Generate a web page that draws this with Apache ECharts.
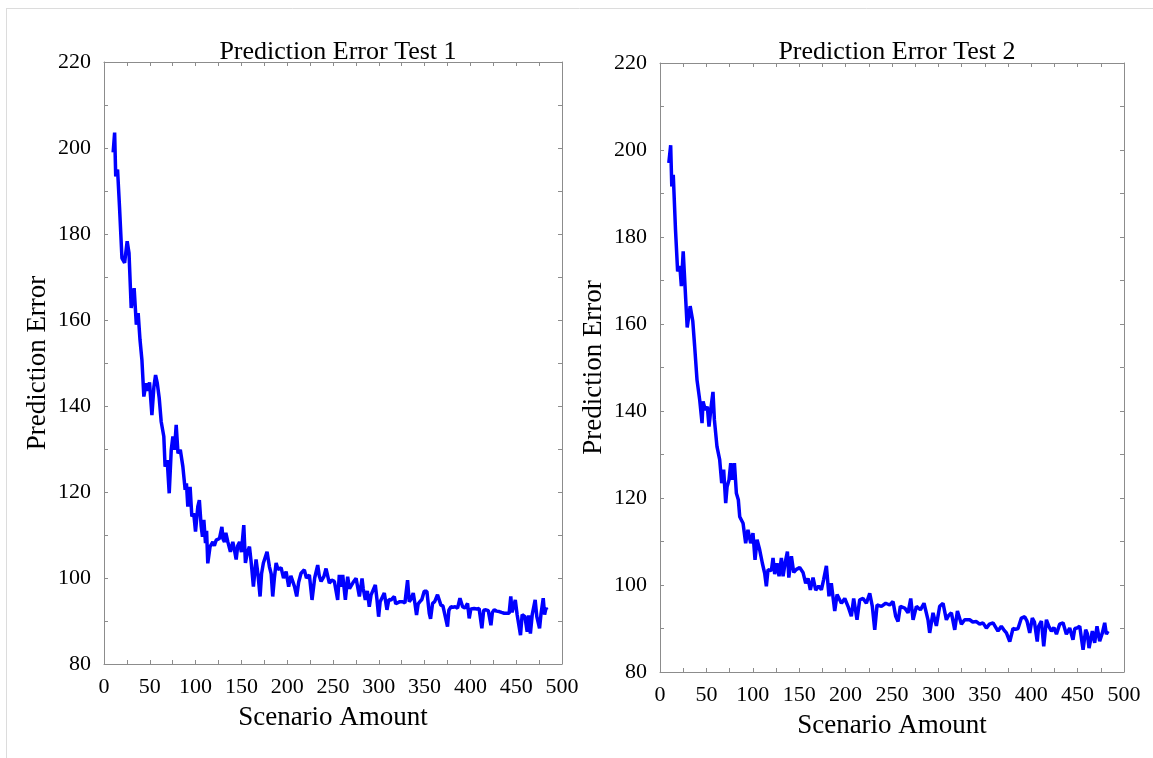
<!DOCTYPE html>
<html>
<head>
<meta charset="utf-8">
<script src="https://cdn.jsdelivr.net/npm/echarts@6/dist/echarts.min.js"></script>
<style>
html,body{margin:0;padding:0;background:#fff;}
#chart{width:1153px;height:758px;}
</style>
</head>
<body>
<div id="chart"></div>
<script>
// ---- data ----
var titles = ['Prediction Error Test 1', 'Prediction Error Test 2'];
var xAxisName = 'Scenario Amount';
var yAxisName = 'Prediction Error';
var xTicks = [0, 50, 100, 150, 200, 250, 300, 350, 400, 450, 500];
var yTicks = [80, 100, 120, 140, 160, 180, 200, 220];

var test1X = [10,11.6,12.8,14.8,17,19.6,22.5,25.3,27.3,29.7,32.9,35.3,37.3,39.3,41.4,43.5,45.9,47.5,49.7,52.3,54.5,56.3,58.1,60.3,62.4,65.3,66.7,69,71.2,73.4,75.2,77,78.8,80.8,83.3,86.1,88.6,90,91.5,94,95.9,98,99.9,102.4,104.1,106.1,107.5,109,110.8,112,113.3,115.8,118.8,120.5,122.4,124.2,126.1,128.7,130,131.5,133,135.2,138,140.6,142,144.3,146,148,150,152.6,154.4,156.5,158.8,161,163.1,166,168,170.4,172,174,178,180.6,182.5,184.2,186,187.9,190,193.3,196,198.8,201.6,204,206,208,210.4,212.5,215.1,218.7,221,224.2,227.1,230,233.3,235,237,240,242.4,246,248.5,251.5,255.1,256.9,258.5,260.6,263.5,266,268,269.7,272,275.2,278.8,281.7,283,285.3,287.5,289.6,291.5,293.3,296.2,298,299.8,301.5,303.4,306,308.9,311,313.3,316.9,318.5,320.5,323,326,328.5,331.4,333.2,335,337.6,339.5,341.2,343,344.9,347,349.6,352.5,355.1,356.5,358.7,361,364.1,367.8,370,372,375,376.5,378.7,381,383.4,386,388.6,391.5,394,396.9,398.7,400.5,404.1,407,409.5,412.5,414.5,416.9,419.5,422.4,424,426,428.5,431.4,434,436.9,440,442.3,444.1,445.5,446.7,449,451,453,454.7,456.5,459.5,462,463.5,465.5,467.5,469,470.7,472.5,475.5,477,479.5,481,482.5,483.6];
var test1Y = [199,203.6,193.4,195,186,174.4,173.3,178.3,175.6,162.8,167.4,158.9,161.6,155.4,150.7,142.2,145.3,143.5,145.5,137.9,144.5,147.2,145.4,141.8,136.4,132.9,125.9,127.4,119.7,129.8,132.9,129.8,135.6,129,129.8,125.9,120.5,122,116.6,121.2,114.3,115,110.8,116.6,118.1,112,109.6,113.5,108.1,111,103.4,107.3,108.4,107.5,108.8,109.2,109.2,111.9,109,108.4,110.5,108.4,106.1,108.4,107,104.3,107.5,108.4,106,112.3,103.5,106,107.3,103,98,104.3,101,95.7,101,103.5,106.1,102.6,101,95.7,100,103.5,102,102.4,100,101.5,98,100.5,100.4,98,95.7,99,101.1,101.9,100,100.7,94.9,100,103,100.5,99.2,100.3,102.2,98.8,99.5,99.2,94.9,100.7,98,100.7,94.9,100.3,97.5,97.1,99,99.9,95.7,99.9,97.5,94.9,97,93.3,96,95.7,98.4,95,91,94.5,94.9,96.5,92.6,95,94.9,95.7,94,94.1,94.5,94.5,94.2,99.5,94.5,95,96.5,94,91.4,94,94.5,95,96.9,96.9,91.8,90.5,94.1,94.5,96.1,93.7,93.5,93.2,88.7,92.5,93.3,93.2,93.3,93,95.3,93.3,93,94.1,90.6,92.8,92.9,92.8,92.9,88.3,92.5,92.6,92.4,89,92,92.6,92.3,92.2,92,91.8,91.8,91.8,95.7,92,91.8,94.9,91.5,91.3,86.7,91.5,91,87.5,91.3,87.1,91.5,91.2,94.9,91,88.3,91.5,95.3,91.5,93,92.6];

var test2X = [9.5,11.5,12.7,14.3,16.7,19,21.4,23,25,26.6,29.3,32.5,35.3,37.3,39.9,42.8,45.3,46.4,48.9,51,52.8,55.3,57.1,58.6,61.4,64.3,66.5,68.6,70.8,72.3,74.4,76.2,78,80.2,82.3,84.4,85.9,89.5,92.3,94.8,97.7,100.2,102.4,104.6,107.4,110.3,112.8,114.6,116.4,120,121.8,123.6,126.1,128.3,130.8,132.6,135.1,137.3,138.8,141.6,144.1,147,150.5,154.1,157,159.5,162,164.9,167.8,171,173.9,176.4,179.3,180.3,182.1,184.6,186.4,188.3,190.8,193.6,195.5,199.1,202.6,206.2,208.7,212.3,215.2,218.8,222.4,226,228.8,231.4,233.9,238.6,243.2,247.5,251.1,254,256.5,259,263.7,267.3,270.2,272.7,276.3,280.6,284.5,288.8,290.6,294.2,297.8,301.4,305,308.6,311,314,317.6,320.5,324.8,328.3,333.7,337,340.9,344.5,348,351.7,355,358.9,364.2,367.8,370.5,373.3,376.9,380.4,383,385.8,389.4,393,395.5,398.4,401.2,403.5,405.6,406.5,408,411,413.5,416.4,419,421.8,424.5,427.2,430.7,434.3,437.9,441.5,445,447,449.4,452.3,455.9,458.7,460.5,462.3,465.9,468.4,470.9,473.8,476.7,479.2,481,482.8];
var test2Y = [197,201.1,191.6,194.3,181.7,172.1,173.3,168.7,176.7,170.2,159.2,164.1,160.7,155,147.1,142.5,137.2,142.2,140.2,141,136.4,141.4,144.4,138,131.8,128.8,123.4,126.5,118.8,122.6,124.2,128,124.2,128,121.1,119.6,115.7,114.2,109.6,112.7,109.6,111.9,105.8,110.4,108.1,105,102.7,99.7,103.5,103.3,106.2,102.5,105,102,106.2,102,105.4,107.7,101.7,106.6,102.9,103.6,104,102.9,100.4,101.5,98.9,101.7,98.8,99.8,98.9,101.3,104.4,104.8,97.4,100.4,100,94,97.8,96.6,95.8,96.9,95.1,92.8,96.9,92,96.6,96.9,95.8,98.1,95.1,89.7,95.4,95.1,95.8,95.4,96.2,92.8,91.6,95.1,94.7,93.6,96.9,92,95.1,94.3,95.8,92,89,93.6,90.6,95.1,95.8,92,93,93.6,89.7,94,91,92,92,91.5,91.6,91,91.3,90.1,91,91.3,89.4,90.5,89.7,89,87,90,89.8,90,92.4,92.7,91.7,89,92.4,91.5,91.2,87,90.5,91.7,85.9,92,90.5,89.4,90.2,88.7,91,91.3,88.7,90.1,87.4,90,90.1,90.5,85.1,89.7,88.8,85.5,89.4,86.7,90.5,87.1,89,91.3,88.7,89.4];

function pairs(xs, ys) { return xs.map(function (x, i) { return [x, ys[i]]; }); }

// ---- chart ----
var FONT = "'Liberation Serif','Times New Roman',serif";
var frameColor = '#8c8c8c';
var grids = [
  { left: 104, width: 458, top: 62, height: 602 },
  { left: 660, width: 464, top: 63, height: 609 }
];

function xAxisFor(g, pos) {
  var main = pos === 'bottom';
  return {
    type: 'value', gridIndex: g, position: pos,
    min: xTicks[0], max: xTicks[xTicks.length - 1], interval: xTicks[1] - xTicks[0],
    name: main ? xAxisName : '', nameLocation: 'middle', nameGap: 40,
    nameTextStyle: { fontFamily: FONT, fontSize: 27, color: '#000' },
    axisLine: { show: true, onZero: false, lineStyle: { color: frameColor, width: 1 } },
    axisTick: { show: true, inside: true, length: 4, lineStyle: { color: frameColor } },
    minorTick: { show: true, splitNumber: 2, length: 4, lineStyle: { color: frameColor } },
    splitLine: { show: false },
    axisLabel: { show: main, fontFamily: FONT, fontSize: 22, color: '#000', margin: 12 }
  };
}
function yAxisFor(g, pos) {
  var main = pos === 'left';
  return {
    type: 'value', gridIndex: g, position: pos,
    min: yTicks[0], max: yTicks[yTicks.length - 1], interval: yTicks[1] - yTicks[0],
    name: main ? yAxisName : '', nameLocation: 'middle', nameGap: 53,
    nameTextStyle: { fontFamily: FONT, fontSize: 27, color: '#000' },
    axisLine: { show: true, onZero: false, lineStyle: { color: frameColor, width: 1 } },
    axisTick: { show: true, inside: true, length: 4, lineStyle: { color: frameColor } },
    minorTick: { show: true, splitNumber: 2, length: 4, lineStyle: { color: frameColor } },
    splitLine: { show: false },
    axisLabel: { show: main, fontFamily: FONT, fontSize: 22, color: '#000', margin: 13 }
  };
}

var chart = echarts.init(document.getElementById('chart'), null, { renderer: 'canvas' });
chart.setOption({
  animation: false,
  backgroundColor: '#fff',
  title: titles.map(function (t, i) {
    return {
      text: t,
      left: grids[i].left + grids[i].width / 2,
      top: 34,
      textAlign: 'center',
      textStyle: { fontFamily: FONT, fontSize: 26, fontWeight: 'normal', color: '#000' }
    };
  }),
  grid: grids,
  xAxis: [xAxisFor(0, 'bottom'), xAxisFor(0, 'top'), xAxisFor(1, 'bottom'), xAxisFor(1, 'top')],
  yAxis: [yAxisFor(0, 'left'), yAxisFor(0, 'right'), yAxisFor(1, 'left'), yAxisFor(1, 'right')],
  series: [
    { type: 'line', xAxisIndex: 0, yAxisIndex: 0, data: pairs(test1X, test1Y),
      showSymbol: false, lineStyle: { color: '#0000ff', width: 3.5 }, itemStyle: { color: '#0000ff' } },
    { type: 'line', xAxisIndex: 2, yAxisIndex: 2, data: pairs(test2X, test2Y),
      showSymbol: false, lineStyle: { color: '#0000ff', width: 3.5 }, itemStyle: { color: '#0000ff' } }
  ],
  graphic: [
    { type: 'line', shape: { x1: 6, y1: 8.5, x2: 1153, y2: 8.5 }, style: { stroke: '#dcdcdc', lineWidth: 1 } },
    { type: 'line', shape: { x1: 6.5, y1: 8, x2: 6.5, y2: 758 }, style: { stroke: '#dcdcdc', lineWidth: 1 } }
  ]
});
</script>
</body>
</html>
